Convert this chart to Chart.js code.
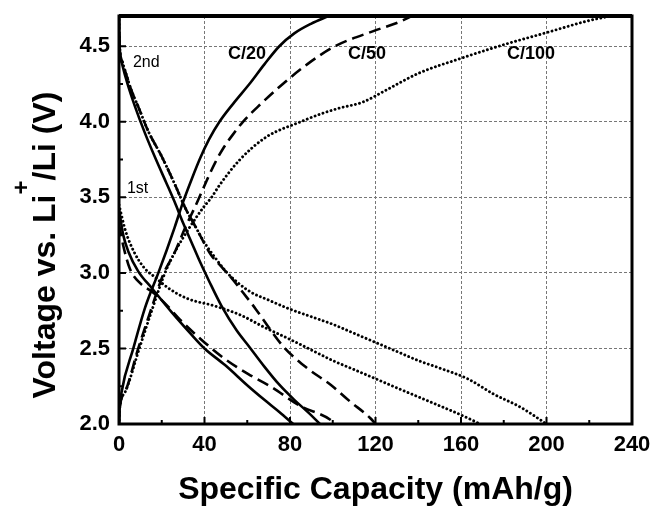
<!DOCTYPE html>
<html>
<head>
<meta charset="utf-8">
<script src="https://cdn.jsdelivr.net/npm/chart.js@4.4.0/dist/chart.umd.min.js"></script>
<style>
  html, body { margin: 0; padding: 0; background: #fff; }
</style>
</head>
<body>
<canvas id="chart" width="654" height="509"></canvas>
<script>
// Axis ticks
const capTicks = [0, 40, 80, 120, 160, 200, 240];
const voltTicks = [2.0, 2.5, 3.0, 3.5, 4.0, 4.5];
const capMinor = [20, 60, 100, 140, 180, 220];
const voltMinor = [2.25, 2.75, 3.25, 3.75, 4.25];

// C/20 (solid): charge, 1st discharge, 2nd discharge
const c20ChgCap = [0, 0.3, 1.2, 6.7, 12.2, 18.4, 22.3, 26, 30, 34, 38, 42, 47, 54, 61, 68, 75, 82, 90, 98];
const c20ChgV   = [2.0, 2.1, 2.21, 2.5, 2.77, 3.0, 3.15, 3.3, 3.47, 3.62, 3.76, 3.88, 4.0, 4.13, 4.25, 4.38, 4.5, 4.585, 4.65, 4.7];
const c20Dis1Cap = [0, 2, 4.4, 9, 15.3, 24.6, 34, 40, 49.6, 60.5, 68, 75, 81.5];
const c20Dis1V   = [3.42, 3.25, 3.14, 3.01, 2.9, 2.74, 2.59, 2.5, 2.39, 2.25, 2.16, 2.08, 2.0];
const c20Dis2Cap = [0, 0.3, 1.5, 4, 7.5, 12, 17, 22, 26, 30, 34, 38, 42, 48, 55, 61, 68, 75, 82, 89, 94];
const c20Dis2V   = [4.7, 4.5, 4.38, 4.25, 4.1, 3.93, 3.76, 3.6, 3.47, 3.33, 3.2, 3.07, 2.95, 2.78, 2.62, 2.51, 2.38, 2.26, 2.16, 2.07, 2.0];

// C/50 (dashed)
const c50ChgCap = [0, 0.3, 2.8, 9, 15.3, 20.7, 26.2, 31, 36, 41, 45, 49, 53, 58, 65, 75, 88, 101, 119, 131, 137];
const c50ChgV   = [2.0, 2.1, 2.21, 2.5, 2.77, 2.99, 3.14, 3.3, 3.45, 3.61, 3.73, 3.83, 3.91, 4.0, 4.1, 4.23, 4.38, 4.5, 4.6, 4.66, 4.7];
const c50Dis1Cap = [0, 2, 5, 10, 15, 20, 29.3, 40, 49.6, 60.5, 70.7, 84.7, 99.7, 101];
const c50Dis1V   = [3.32, 3.18, 3.03, 2.93, 2.88, 2.82, 2.68, 2.54, 2.43, 2.33, 2.25, 2.12, 2.02, 2.0];
const c50Dis2Cap = [0, 0.3, 1.5, 3, 6, 9, 13.6, 20, 26, 31, 36, 43, 48, 53, 58, 64, 70, 77, 88, 99, 108, 117.5, 120];
const c50Dis2V   = [4.7, 4.5, 4.4, 4.33, 4.2, 4.1, 3.94, 3.77, 3.59, 3.43, 3.3, 3.12, 3.04, 2.96, 2.87, 2.76, 2.64, 2.51, 2.37, 2.26, 2.15, 2.04, 2.0];

// C/100 (dotted)
const c100ChgCap = [0, 0.3, 2.8, 9.5, 15.8, 21.5, 27, 33, 39.3, 43.3, 47, 56.6, 69, 85, 94, 103, 114, 125, 140, 160, 180, 200, 220, 230];
const c100ChgV   = [2.0, 2.1, 2.21, 2.5, 2.77, 3.0, 3.16, 3.3, 3.43, 3.5, 3.58, 3.75, 3.9, 4.0, 4.05, 4.09, 4.13, 4.21, 4.32, 4.42, 4.51, 4.59, 4.67, 4.7];
const c100Dis1Cap = [0, 3, 7, 12, 17, 23, 32, 45, 57, 68, 80, 90, 100, 110, 120, 131.5, 145, 160, 169];
const c100Dis1V   = [3.45, 3.28, 3.14, 3.03, 2.97, 2.9, 2.83, 2.78, 2.72, 2.64, 2.56, 2.49, 2.42, 2.36, 2.3, 2.23, 2.15, 2.06, 2.0];
const c100Dis2Cap = [0, 0.3, 1.5, 3, 6, 9, 13.6, 20, 26, 31, 36, 40, 45, 50, 56, 62, 70, 80, 90, 100, 110, 120, 130, 140, 150, 163, 175, 188, 200];
const c100Dis2V   = [4.7, 4.5, 4.4, 4.33, 4.2, 4.1, 3.94, 3.77, 3.59, 3.43, 3.3, 3.2, 3.1, 3.01, 2.93, 2.87, 2.82, 2.76, 2.71, 2.66, 2.6, 2.54, 2.48, 2.42, 2.37, 2.3, 2.2, 2.11, 2.0];

// In-plot labels: [text, capacity, voltage, font, align]
const annotations = [
    ['C/20', 59.9, 4.45, 'bold 18px "Liberation Sans", Arial', 'center'],
    ['C/50', 116, 4.45, 'bold 18px "Liberation Sans", Arial', 'center'],
    ['C/100', 192.7, 4.45, 'bold 18px "Liberation Sans", Arial', 'center'],
    ['2nd', 6.5, 4.39, '16px "Liberation Sans", Arial', 'left'],
    ['1st', 3.7, 3.555, '16px "Liberation Sans", Arial', 'left']
];

const styles = {
    solid: { dash: [], cap: 'butt' },
    dashed: { dash: [12, 6], cap: 'butt' },
    dotted: { dash: [0.01, 4.2], cap: 'round' }
};

function pts(xs, ys) {
    return xs.map((x, i) => ({ x: x, y: ys[i] }));
}

function curve(label, xs, ys, style) {
    return {
        label: label,
        data: pts(xs, ys),
        showLine: true,
        borderColor: '#000',
        borderWidth: style.cap === 'round' ? 2.9 : 2.6,
        borderDash: style.dash,
        borderCapStyle: style.cap,
        pointRadius: 0,
        cubicInterpolationMode: 'monotone',
        fill: false
    };
}

const datasets = [
    curve('C/20 charge', c20ChgCap, c20ChgV, styles.solid),
    curve('C/20 1st discharge', c20Dis1Cap, c20Dis1V, styles.solid),
    curve('C/20 2nd discharge', c20Dis2Cap, c20Dis2V, styles.solid),
    curve('C/50 charge', c50ChgCap, c50ChgV, styles.dashed),
    curve('C/50 1st discharge', c50Dis1Cap, c50Dis1V, styles.dashed),
    curve('C/50 2nd discharge', c50Dis2Cap, c50Dis2V, styles.dashed),
    curve('C/100 charge', c100ChgCap, c100ChgV, styles.dotted),
    curve('C/100 1st discharge', c100Dis1Cap, c100Dis1V, styles.dotted),
    curve('C/100 2nd discharge', c100Dis2Cap, c100Dis2V, styles.dotted)
];

const tickFont = { family: '"Liberation Sans", Arial', size: 22, weight: 'bold' };

// Frame, inward ticks, in-plot labels and y title (with superscript)
const decorPlugin = {
    id: 'decor',
    afterDraw(chart) {
        const { ctx, chartArea: a, scales: { x, y } } = chart;
        ctx.save();
        ctx.strokeStyle = '#000';
        ctx.lineWidth = 2;
        ctx.beginPath();
        capTicks.forEach(v => {
            const px = x.getPixelForValue(v);
            ctx.moveTo(px, a.bottom); ctx.lineTo(px, a.bottom - 7);
        });
        capMinor.forEach(v => {
            const px = x.getPixelForValue(v);
            ctx.moveTo(px, a.bottom); ctx.lineTo(px, a.bottom - 4);
        });
        voltTicks.forEach(v => {
            const py = y.getPixelForValue(v);
            ctx.moveTo(a.left, py); ctx.lineTo(a.left + 7, py);
        });
        voltMinor.forEach(v => {
            const py = y.getPixelForValue(v);
            ctx.moveTo(a.left, py); ctx.lineTo(a.left + 4, py);
        });
        ctx.stroke();

        // frame
        ctx.lineWidth = 3;
        ctx.strokeRect(a.left, a.top, a.right - a.left, a.bottom - a.top);
        ctx.lineWidth = 4;
        ctx.beginPath();
        ctx.moveTo(a.left, a.top); ctx.lineTo(a.right, a.top);
        ctx.stroke();

        // labels inside the plot
        ctx.fillStyle = '#000';
        ctx.textBaseline = 'middle';
        annotations.forEach(([text, cx, cy, font, align]) => {
            ctx.font = font;
            ctx.textAlign = align;
            ctx.fillText(text, x.getPixelForValue(cx), y.getPixelForValue(cy));
        });

        // y axis title: Voltage vs. Li+/Li (V)
        const mainFont = 'bold 32px "Liberation Sans", Arial';
        const supFont = 'bold 24px "Liberation Sans", Arial';
        const partA = 'Voltage vs. Li';
        const partB = '+';
        const partC = '/Li (V)';
        ctx.font = mainFont;
        const wA = ctx.measureText(partA).width;
        const wC = ctx.measureText(partC).width;
        ctx.font = supFont;
        const wB = ctx.measureText(partB).width;
        const total = wA + wB + wC;
        ctx.translate(55, 245);
        ctx.rotate(-Math.PI / 2);
        ctx.textAlign = 'left';
        ctx.textBaseline = 'alphabetic';
        let cur = -total / 2;
        ctx.font = mainFont;
        ctx.fillText(partA, cur, 0);
        cur += wA;
        ctx.font = supFont;
        ctx.fillText(partB, cur, -26);
        cur += wB;
        ctx.font = mainFont;
        ctx.fillText(partC, cur, 0);
        ctx.restore();
    }
};

new Chart(document.getElementById('chart'), {
    type: 'scatter',
    data: { datasets: datasets },
    options: {
        responsive: false,
        animation: false,
        layout: { padding: { top: 16, right: 22, left: 0, bottom: 0 } },
        scales: {
            x: {
                type: 'linear',
                min: 0,
                max: 240,
                afterBuildTicks: s => { s.ticks = capTicks.map(v => ({ value: v })); },
                afterFit: s => {
                    s.height = 85;
                    s.paddingLeft = 0;
                    s.paddingRight = 0;
                },
                ticks: {
                    color: '#000',
                    font: tickFont,
                    padding: 8,
                    callback: v => String(v)
                },
                grid: { color: '#777', lineWidth: 1, drawTicks: false },
                border: { display: false, dash: [3, 2] },
                title: {
                    display: true,
                    text: 'Specific Capacity (mAh/g)',
                    color: '#000',
                    font: { family: '"Liberation Sans", Arial', size: 32, weight: 'bold' },
                    padding: { top: 0, bottom: 0 }
                }
            },
            y: {
                type: 'linear',
                min: 2.0,
                max: 4.7,
                afterBuildTicks: s => { s.ticks = voltTicks.map(v => ({ value: v })); },
                afterFit: s => {
                    s.width = 119;
                    s.paddingTop = 0;
                    s.paddingBottom = 0;
                },
                ticks: {
                    color: '#000',
                    font: tickFont,
                    padding: 9,
                    callback: v => v.toFixed(1)
                },
                grid: { color: '#777', lineWidth: 1, drawTicks: false },
                border: { display: false, dash: [3, 2] }
            }
        },
        plugins: {
            legend: { display: false },
            tooltip: { enabled: false }
        }
    },
    plugins: [decorPlugin]
});
</script>
</body>
</html>
